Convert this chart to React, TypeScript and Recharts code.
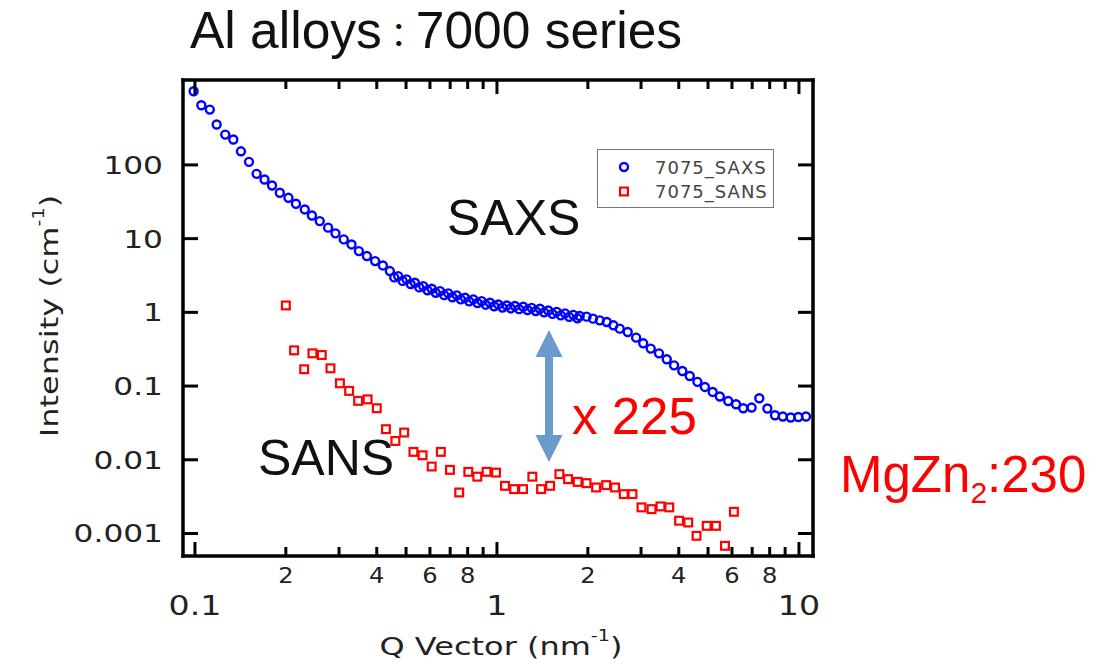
import React from 'react';
import { ScatterChart, Scatter, XAxis, YAxis, Legend } from 'recharts';

// SAXS (7075)
const saxsQ = [
  0.099, 0.105, 0.112, 0.118, 0.126, 0.134, 0.142, 0.151, 0.16, 0.17,
  0.18, 0.191, 0.204, 0.216, 0.231, 0.244, 0.259, 0.276, 0.292, 0.311,
  0.33, 0.349, 0.371, 0.395, 0.419, 0.442, 0.457, 0.471, 0.487, 0.502,
  0.518, 0.535, 0.553, 0.57, 0.589, 0.608, 0.627, 0.648, 0.669, 0.69,
  0.712, 0.736, 0.759, 0.784, 0.809, 0.835, 0.862, 0.89, 0.918, 0.948,
  0.979, 1.01, 1.043, 1.077, 1.111, 1.147, 1.184, 1.222, 1.262, 1.303,
  1.344, 1.388, 1.433, 1.479, 1.527, 1.577, 1.627, 1.68, 1.734, 1.789,
  1.847, 1.88, 1.98, 2.08, 2.19, 2.31, 2.43, 2.55, 2.71, 2.89,
  3.05, 3.23, 3.44, 3.65, 3.86, 4.11, 4.35, 4.61, 4.88, 5.18,
  5.47, 5.83, 6.19, 6.54, 6.97, 7.39, 7.86, 8.33, 8.84, 9.39,
  9.95, 10.55,
];
const saxsI = [
  997, 644, 563, 353, 258, 221, 153, 110, 75.7, 63.4,
  52.6, 41.9, 35.8, 29.7, 24.9, 20.6, 17.3, 14.1, 11.8, 9.76,
  8.34, 6.77, 5.8, 4.96, 4.33, 3.63, 2.98, 3.1, 2.67, 2.8,
  2.42, 2.52, 2.18, 2.27, 1.99, 2.09, 1.84, 1.94, 1.71, 1.81,
  1.6, 1.7, 1.5, 1.58, 1.41, 1.5, 1.34, 1.42, 1.27, 1.35,
  1.21, 1.28, 1.16, 1.24, 1.13, 1.22, 1.105, 1.19, 1.075, 1.15,
  1.041, 1.12, 1.0, 1.06, 0.954, 1.016, 0.911, 0.969, 0.869, 0.925,
  0.829, 0.891, 0.874, 0.821, 0.779, 0.74, 0.667, 0.601, 0.541, 0.454,
  0.38, 0.322, 0.278, 0.231, 0.191, 0.16, 0.137, 0.114, 0.0973, 0.0832,
  0.0721, 0.0628, 0.0566, 0.05, 0.0511, 0.0684, 0.0496, 0.0402, 0.0386, 0.0374,
  0.0381, 0.0386,
];

// SANS (7075)
const sansQ = [
  0.2, 0.213, 0.23, 0.245, 0.263, 0.281, 0.302, 0.324, 0.347, 0.373,
  0.4, 0.429, 0.461, 0.493, 0.529, 0.567, 0.608, 0.652, 0.699, 0.75,
  0.804, 0.861, 0.924, 0.993, 1.063, 1.14, 1.22, 1.31, 1.4, 1.5,
  1.61, 1.72, 1.85, 1.98, 2.13, 2.3, 2.46, 2.63, 2.81, 3.01,
  3.25, 3.48, 3.72, 4.01, 4.3, 4.58, 4.95, 5.31, 5.69, 6.09,
];
const sansI = [
  1.24, 0.305, 0.169, 0.278, 0.264, 0.174, 0.109, 0.086, 0.063, 0.066,
  0.05, 0.026, 0.018, 0.0234, 0.0128, 0.0115, 0.0081, 0.0128, 0.0073, 0.0036,
  0.00686, 0.0059, 0.00686, 0.0067, 0.00443, 0.004, 0.004, 0.0059, 0.004, 0.00443,
  0.00638, 0.00546, 0.00501, 0.00482, 0.00421, 0.00453, 0.00421, 0.00342, 0.00342, 0.00226,
  0.00214, 0.00233, 0.00226, 0.00149, 0.00141, 0.00093, 0.00127, 0.00127, 0.00068, 0.00197,
];

const xTicks = [
  0.1, 0.2, 0.3, 0.4, 0.5, 0.6, 0.7, 0.8, 0.9,
  1, 2, 3, 4, 5, 6, 7, 8, 9, 10,
];
const xMajor = [0.1, 1, 10];
const xMajorText = ['0.1', '1', '10'];
const xMinorLabeled = [0.2, 0.4, 0.6, 0.8, 2, 4, 6, 8];
const xMinorText = ['2', '4', '6', '8', '2', '4', '6', '8'];
const yTicks = [0.001, 0.01, 0.1, 1, 10, 100];
const yTickText = ['0.001', '0.01', '0.1', '1', '10', '100'];
const legendOrder = ['7075_SAXS', '7075_SANS'];

const saxs = saxsQ.map((q, k) => ({ q, i: saxsI[k] }));
const sans = sansQ.map((q, k) => ({ q, i: sansI[k] }));

const AXIS_FONT = '"DejaVu Sans", Verdana, sans-serif';
const SLIDE_FONT = '"Liberation Sans", Arial, "Noto Sans CJK JP", sans-serif';
const BLUE = '#0000ff';
const RED = '#ff0000';
const TICK_W = 3;

function BottomTick(props: any) {
  const { x, y, payload } = props;
  const v = payload.value;
  const mi = xMajor.indexOf(v);
  const li = xMinorLabeled.indexOf(v);
  return (
    <g>
      <line x1={x} x2={x} y1={y} y2={y - (mi >= 0 ? 14 : 9)} stroke="#000" strokeWidth={TICK_W} />
      {li >= 0 && (
        <text transform={`translate(${x},${y + 27}) scale(1.15,1)`} textAnchor="middle"
          fontSize={21} fontFamily={AXIS_FONT} fill="#222">{xMinorText[li]}</text>
      )}
      {mi >= 0 && (
        <text transform={`translate(${x},${y + 59}) scale(1.28,1)`} textAnchor="middle"
          fontSize={26} fontFamily={AXIS_FONT} fill="#222">{xMajorText[mi]}</text>
      )}
    </g>
  );
}

function TopTick(props: any) {
  const { x, y, payload } = props;
  const major = xMajor.includes(payload.value);
  return <line x1={x} x2={x} y1={y} y2={y + (major ? 14 : 9)} stroke="#000" strokeWidth={TICK_W} />;
}

function LeftTick(props: any) {
  const { x, y, payload } = props;
  const k = yTicks.indexOf(payload.value);
  return (
    <g>
      <line x1={x} x2={x + 15} y1={y} y2={y} stroke="#000" strokeWidth={TICK_W} />
      <text transform={`translate(${x - 20},${y + 9}) scale(1.25,1)`} textAnchor="end"
        fontSize={25} fontFamily={AXIS_FONT} fill="#222">{yTickText[k]}</text>
    </g>
  );
}

function RightTick(props: any) {
  const { x, y } = props;
  return <line x1={x} x2={x - 15} y1={y} y2={y} stroke="#000" strokeWidth={TICK_W} />;
}

const circle = (p: any) => (
  <circle cx={p.cx} cy={p.cy} r={4} fill="none" stroke={BLUE} strokeWidth={2.4} />
);
const square = (p: any) => (
  <rect x={p.cx - 3.9} y={p.cy - 3.9} width={7.8} height={7.8} fill="none" stroke={RED} strokeWidth={2.2} />
);

function LegendBox(props: any) {
  const items = [...(props.payload || [])].sort(
    (a: any, b: any) => legendOrder.indexOf(a.value) - legendOrder.indexOf(b.value));
  return (
    <svg width={177} height={59} style={{ display: 'block' }}>
      <rect x={0.5} y={0.5} width={176} height={58} fill="#fff" stroke="#777" strokeWidth={1} />
      {items.map((it: any, k: number) => {
        const cy = k === 0 ? 18 : 42.5;
        const isSaxs = it.value === legendOrder[0];
        return (
          <g key={it.value}>
            {isSaxs
              ? <circle cx={27} cy={cy} r={4} fill="none" stroke={BLUE} strokeWidth={2.4} />
              : <rect x={23.1} y={cy - 3.9} width={7.8} height={7.8} fill="none" stroke={RED} strokeWidth={2.2} />}
            <text x={58} y={cy + 6.5} fontSize={18} letterSpacing={1} fontFamily={AXIS_FONT} fill="#444">{it.value}</text>
          </g>
        );
      })}
    </svg>
  );
}

const frame = { stroke: '#000', strokeWidth: 3.5, strokeLinecap: 'square' as const };
const xDomain = [0.0913, 11.13];
const yDomain = [0.000495, 1419];

export default function App() {
  return (
    <div style={{ position: 'absolute', left: 0, top: 0, width: 1112, height: 668, background: '#fff' }}>
      <ScatterChart width={1112} height={668} margin={{ top: 79, right: 298, bottom: 111, left: 182 }}>
        <XAxis xAxisId="b" type="number" dataKey="q" scale="log" domain={xDomain} allowDataOverflow
          ticks={xTicks} interval={0} height={1} tickSize={0} tickMargin={0} tickLine={false}
          stroke="#000" strokeWidth={3.5} axisLine={frame} tick={<BottomTick />} />
        <XAxis xAxisId="t" orientation="top" type="number" dataKey="q" scale="log" domain={xDomain} allowDataOverflow
          ticks={xTicks} interval={0} height={1} tickSize={0} tickMargin={0} tickLine={false}
          stroke="#000" strokeWidth={3.5} axisLine={frame} tick={<TopTick />} />
        <YAxis yAxisId="l" type="number" dataKey="i" scale="log" domain={yDomain} allowDataOverflow
          ticks={yTicks} interval={0} width={1} tickSize={0} tickMargin={0} tickLine={false}
          stroke="#000" strokeWidth={3.5} axisLine={frame} tick={<LeftTick />} />
        <YAxis yAxisId="r" orientation="right" type="number" dataKey="i" scale="log" domain={yDomain} allowDataOverflow
          ticks={yTicks} interval={0} width={1} tickSize={0} tickMargin={0} tickLine={false}
          stroke="#000" strokeWidth={3.5} axisLine={frame} tick={<RightTick />} />
        <Legend layout="vertical" align="center" verticalAlign="middle" content={<LegendBox />}
          wrapperStyle={{ left: 597, top: 149, width: 177, height: 59 }} />
        <Scatter name="7075_SAXS" data={saxs} xAxisId="b" yAxisId="l" shape={circle} isAnimationActive={false} />
        <Scatter name="7075_SANS" data={sans} xAxisId="t" yAxisId="r" shape={square} isAnimationActive={false} />
      </ScatterChart>
      <svg width={1112} height={668} style={{ position: 'absolute', left: 0, top: 0, pointerEvents: 'none' }}>
        <text x={190} y={48} fontSize={51.5} fontFamily={SLIDE_FONT} fill="#111">
          Al alloys<tspan fontSize={34}>：</tspan>7000 series
        </text>
        <text x={447} y={235} fontSize={50} fontFamily={SLIDE_FONT} fill="#111">SAXS</text>
        <text x={258} y={475} fontSize={50} fontFamily={SLIDE_FONT} fill="#111">SANS</text>
        <text x={572} y={434} fontSize={51} fontFamily={SLIDE_FONT} fill={RED}>x 225</text>
        <text x={840} y={492} fontSize={51} fontFamily={SLIDE_FONT} fill={RED}>
          MgZn<tspan fontSize={30} dy={11}>2</tspan><tspan dy={-11}>:230</tspan>
        </text>
        <path d="M549 330 L562.5 357 L553 357 L553 435 L562.5 435 L549 462 L535.5 435 L545 435 L545 357 L535.5 357 Z"
          fill="#6a9bcb" />
        <text transform="translate(501,655) scale(1.28,1)" textAnchor="middle" fontSize={25}
          fontFamily={AXIS_FONT} fill="#222">
          Q Vector (nm<tspan fontSize={15} dy={-14}>-1</tspan><tspan dy={14}>)</tspan>
        </text>
        <text transform="translate(58,316) rotate(-90) scale(1.28,1)" textAnchor="middle" fontSize={25}
          fontFamily={AXIS_FONT} fill="#222">
          Intensity (cm<tspan fontSize={15} dy={-14}>-1</tspan><tspan dy={14}>)</tspan>
        </text>
      </svg>
    </div>
  );
}
